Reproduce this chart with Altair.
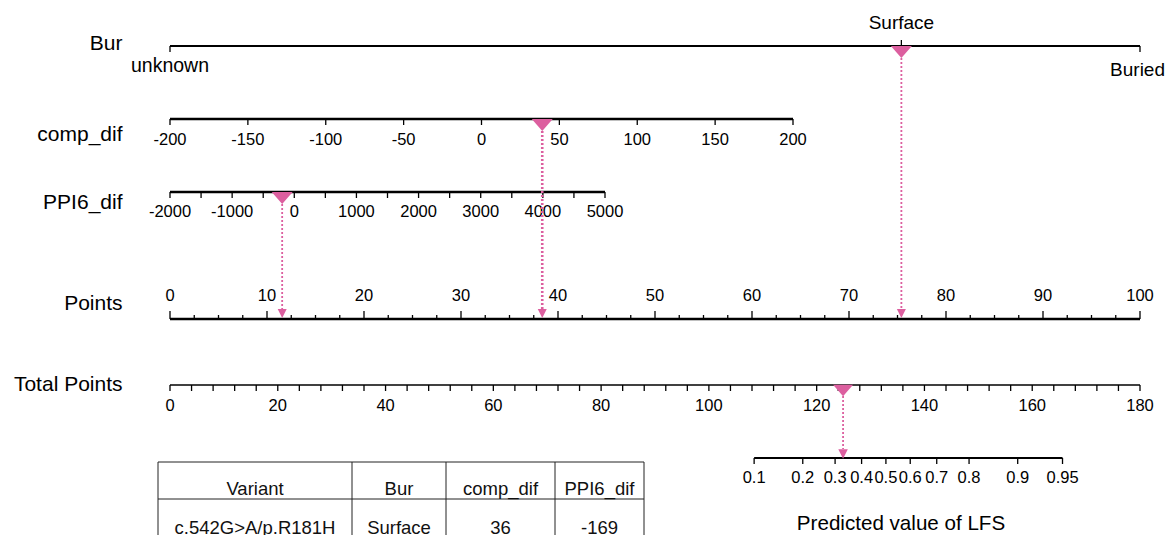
import altair as alt
import pandas as pd

# ---------------- data ----------------
row_labels = ["Bur", "comp_dif", "PPI6_dif", "Points", "Total Points"]

bur_categories = ["unknown", "Surface", "Buried"]
bur_points = [0, 75.4, 100]          # points given to each Bur category

comp_range = [-200, 200]
comp_ticks = [-200, -150, -100, -50, 0, 50, 100, 150, 200]

ppi_range = [-2000, 5000]
ppi_major = [-2000, -1000, 0, 1000, 2000, 3000, 4000, 5000]
ppi_minor = [-1500, -500, 500, 1500, 2500, 3500, 4500]

points_range = [0, 100]
points_major = [0, 10, 20, 30, 40, 50, 60, 70, 80, 90, 100]
points_minor = [2.5, 5, 7.5, 12.5, 15, 17.5, 22.5, 25, 27.5, 32.5, 35, 37.5,
                42.5, 45, 47.5, 52.5, 55, 57.5, 62.5, 65, 67.5, 72.5, 75, 77.5,
                82.5, 85, 87.5, 92.5, 95, 97.5]

total_range = [0, 180]
total_labels = [0, 20, 40, 60, 80, 100, 120, 140, 160, 180]
total_ticks = list(range(0, 181, 4))

lfs_ticks = [0.1, 0.2, 0.3, 0.4, 0.5, 0.6, 0.7, 0.8, 0.9, 0.95]
lfs_labels = ["0.1", "0.2", "0.3", "0.4", "0.5", "0.6", "0.7", "0.8", "0.9", "0.95"]
lfs_intercept = 132.85   # total points where logit = 0
lfs_slope = 11.13        # total points per logit unit

# the plotted case
case_bur = "Surface"
case_comp = 39
case_ppi = -195
case_total = 124.9

table_header = ["Variant", "Bur", "comp_dif", "PPI6_dif"]
table_values = ["c.542G>A/p.R181H", "Surface", "36", "-169"]

# ---------------- layout / style ----------------
OFF = 8
def P(v):
    return v - OFF

FONT = "Liberation Sans"
PINK = "#dc5f9f"
BLACK = "#000000"

pts_scale = alt.Scale(domain=points_range, range=[P(170), P(1140)], nice=False, zero=False)
comp_scale = alt.Scale(domain=comp_range, range=[P(170), P(793)], nice=False, zero=False)
ppi_scale = alt.Scale(domain=ppi_range, range=[P(170), P(605)], nice=False, zero=False)
tot_scale = alt.Scale(domain=total_range, range=[P(170), P(1140)], nice=False, zero=False)

BIG = "M-1,-0.57L1,-0.57L0,0.57Z"
SMALL = "M-1,-1L1,-1L0,1Z"

dummy = pd.DataFrame({"a": [0]})


def X(field, scale):
    return alt.X(field, type="quantitative", scale=scale, axis=None)


def hline(lo, hi, scale, y, w):
    df = pd.DataFrame({"lo": [lo], "hi": [hi]})
    return alt.Chart(df).mark_rule(color=BLACK, strokeWidth=w, strokeCap="butt").encode(
        x=X("lo", scale), x2="hi", y=alt.value(P(y)))


def ticks(vals, scale, y1, y2, w=1.3):
    df = pd.DataFrame({"v": vals})
    return alt.Chart(df).mark_rule(color=BLACK, strokeWidth=w, strokeCap="butt").encode(
        x=X("v", scale), y=alt.value(P(y1)), y2=alt.value(P(y2)))


def labels(vals, texts, scale, y, size=16.5, align="center", dx=0):
    df = pd.DataFrame({"v": vals, "t": texts})
    return alt.Chart(df).mark_text(font=FONT, fontSize=size, baseline="middle",
                                   align=align, dx=dx, color=BLACK).encode(
        x=X("v", scale), y=alt.value(P(y)), text="t:N")


def marker(val, scale, y, size, shape):
    df = pd.DataFrame({"v": [val]})
    return alt.Chart(df).mark_point(shape=shape, size=size, filled=True, color=PINK,
                                    opacity=1, strokeWidth=0).encode(
        x=X("v", scale), y=alt.value(P(y)))


def dotted(val, scale, y1, y2, w=1.8):
    df = pd.DataFrame({"v": [val]})
    return alt.Chart(df).mark_rule(color=PINK, strokeWidth=w, strokeDash=[2, 2]).encode(
        x=X("v", scale), y=alt.value(P(y1)), y2=alt.value(P(y2)))


layers = []

# row labels
row_y = [44, 134.5, 202.5, 303.5, 384.5]
for lab, yy in zip(row_labels, row_y):
    layers.append(alt.Chart(pd.DataFrame({"t": [lab]})).mark_text(
        font=FONT, fontSize=21, align="right", baseline="middle", color=BLACK).encode(
        x=alt.value(P(122.5)), y=alt.value(P(yy)), text="t:N"))

# ---- Bur row ----
bur_pts = dict(zip(bur_categories, bur_points))
layers.append(hline(min(bur_points), max(bur_points), pts_scale, 46, 2))
down = [bur_pts["unknown"], bur_pts["Buried"]]
layers.append(ticks(down, pts_scale, 46, 52))
layers.append(ticks([bur_pts["Surface"]], pts_scale, 40, 46))
layers.append(labels([bur_pts["unknown"]], ["unknown"], pts_scale, 66, 19.5))
layers.append(labels([bur_pts["Surface"]], ["Surface"], pts_scale, 23, 19))
layers.append(labels([bur_pts["Buried"]], ["Buried"], pts_scale, 70, 19,
                     align="right", dx=25))

# ---- comp_dif row ----
layers.append(hline(comp_range[0], comp_range[1], comp_scale, 119, 2.3))
layers.append(ticks(comp_ticks, comp_scale, 119, 125))
layers.append(labels(comp_ticks, [str(v) for v in comp_ticks], comp_scale, 139.5))

# ---- PPI6_dif row ----
layers.append(hline(ppi_range[0], ppi_range[1], ppi_scale, 192, 2.3))
layers.append(ticks(ppi_major + ppi_minor, ppi_scale, 192, 198))
layers.append(labels(ppi_major, [str(v) for v in ppi_major], ppi_scale, 212))

# ---- Points row ----
layers.append(hline(points_range[0], points_range[1], pts_scale, 319, 2.6))
layers.append(ticks(points_major, pts_scale, 311, 319))
layers.append(ticks(points_minor, pts_scale, 315, 319))
layers.append(labels(points_major, [str(v) for v in points_major], pts_scale, 295.5))

# ---- Total Points row ----
layers.append(hline(total_range[0], total_range[1], tot_scale, 385, 1.6))
layers.append(ticks(total_ticks, tot_scale, 385, 391))
layers.append(labels(total_labels, [str(v) for v in total_labels], tot_scale, 406))

# ---- LFS row ----
lfs_df = pd.DataFrame({"p": lfs_ticks, "t": lfs_labels})
tp_expr = f"{lfs_intercept} + {lfs_slope} * log(datum.p / (1 - datum.p))"
lfs_base = alt.Chart(lfs_df).transform_calculate(tp=tp_expr)
layers.append(
    alt.Chart(pd.DataFrame({"plo": [min(lfs_ticks)], "phi": [max(lfs_ticks)]}))
    .transform_calculate(
        lo=f"{lfs_intercept} + {lfs_slope} * log(datum.plo / (1 - datum.plo))",
        hi=f"{lfs_intercept} + {lfs_slope} * log(datum.phi / (1 - datum.phi))")
    .mark_rule(color=BLACK, strokeWidth=2, strokeCap="butt")
    .encode(x=X("lo", tot_scale), x2="hi:Q", y=alt.value(P(458))))
layers.append(lfs_base.mark_rule(color=BLACK, strokeWidth=1.3).encode(
    x=X("tp", tot_scale), y=alt.value(P(458)), y2=alt.value(P(464))))
layers.append(lfs_base.mark_text(font=FONT, fontSize=16.5, baseline="middle",
                                 align="center", color=BLACK).encode(
    x=X("tp", tot_scale), y=alt.value(P(478)), text="t:N"))
layers.append(alt.Chart(pd.DataFrame({"t": ["Predicted value of LFS"]})).mark_text(
    font=FONT, fontSize=20.6, baseline="middle", align="center", color=BLACK).encode(
    x=alt.value(P(901)), y=alt.value(P(523.5)), text="t:N"))

# ---- case markers & dotted guides ----
sv = bur_pts[case_bur]
layers.append(dotted(sv, pts_scale, 58, 309))
layers.append(marker(sv, pts_scale, 52, 441, BIG))
layers.append(marker(sv, pts_scale, 313.5, 81, SMALL))

layers.append(dotted(case_comp, comp_scale, 131, 309, 2.6))
layers.append(marker(case_comp, comp_scale, 125, 441, BIG))
layers.append(marker(case_comp, comp_scale, 313.5, 81, SMALL))

layers.append(dotted(case_ppi, ppi_scale, 204, 309))
layers.append(marker(case_ppi, ppi_scale, 198, 441, BIG))
layers.append(marker(case_ppi, ppi_scale, 313.5, 81, SMALL))

layers.append(dotted(case_total, tot_scale, 396, 449))
layers.append(marker(case_total, tot_scale, 390.5, 400, BIG))
layers.append(marker(case_total, tot_scale, 454, 90, SMALL))

# ---- table ----
TBL_L, TBL_R, TBL_T, TBL_B = 158, 644, 462, 570
col_edges = [158, 352, 446, 555, 644]
layers.append(alt.Chart(dummy).mark_rect(fill=None, fillOpacity=0, stroke="#222222",
                                         strokeWidth=1).encode(
    x=alt.value(P(TBL_L)), x2=alt.value(P(TBL_R)),
    y=alt.value(P(TBL_T)), y2=alt.value(P(TBL_B))))
for xe in col_edges[1:-1]:
    layers.append(alt.Chart(dummy).mark_rule(color="#222222", strokeWidth=1).encode(
        x=alt.value(P(xe)), y=alt.value(P(TBL_T)), y2=alt.value(P(TBL_B))))
layers.append(alt.Chart(dummy).mark_rule(color="#222222", strokeWidth=1).encode(
    x=alt.value(P(TBL_L)), x2=alt.value(P(TBL_R)), y=alt.value(P(499))))

tbl_df = pd.DataFrame({"col": table_header, "header": table_header, "value": table_values})
for i, name in enumerate(table_header):
    cx = (col_edges[i] + col_edges[i + 1]) / 2
    base = alt.Chart(tbl_df).transform_filter(alt.datum.col == name)
    layers.append(base.mark_text(font=FONT, fontSize=18.5, baseline="middle", align="center",
                                 color="#111111").encode(
        x=alt.value(P(cx)), y=alt.value(P(488.5)), text="header:N"))
    layers.append(base.mark_text(font=FONT, fontSize=18.5, baseline="middle", align="center",
                                 color="#111111").encode(
        x=alt.value(P(cx)), y=alt.value(P(527.5)), text="value:N"))

chart = alt.layer(*layers).resolve_scale(x="independent").properties(
    width=1157, height=527,
    autosize=alt.AutoSizeParams(type="none"),
    padding=0,
    background="white",
).configure_view(strokeWidth=0)

chart.save("out.html", embed_options={"renderer": "svg", "actions": False})
